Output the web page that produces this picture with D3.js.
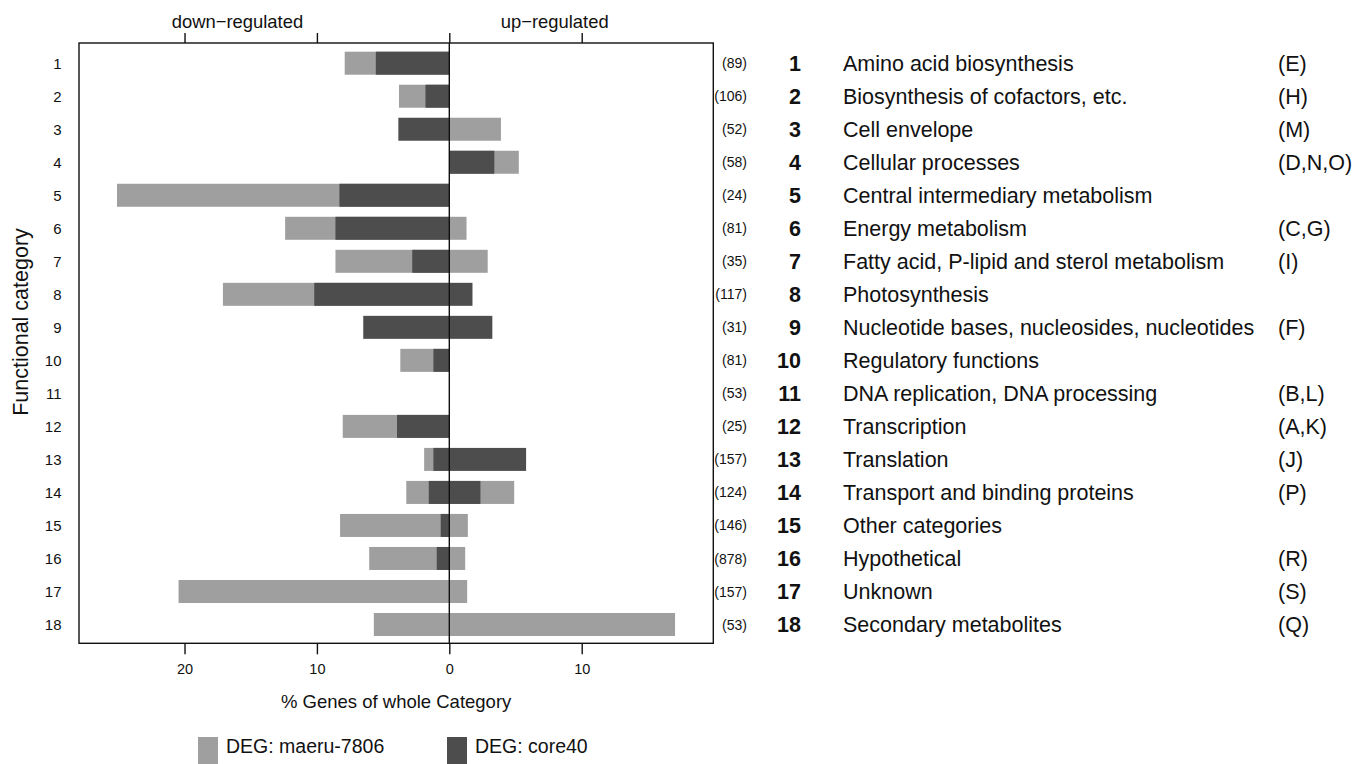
<!DOCTYPE html>
<html>
<head>
<meta charset="utf-8">
<script src="https://cdn.jsdelivr.net/npm/d3@7"></script>
<style>
  body { margin: 0; background: #fff; }
  svg text { font-family: "Liberation Sans", Arial, sans-serif; fill: #111; }
</style>
</head>
<body>
<svg id="chart" width="1355" height="764"></svg>
<script>
// functional categories (row numbers), gene counts and names
const categories = ["1","2","3","4","5","6","7","8","9","10","11","12","13","14","15","16","17","18"];
const geneCounts = [89, 106, 52, 58, 24, 81, 35, 117, 31, 81, 53, 25, 157, 124, 146, 878, 157, 53];
const categoryNames = [
    "Amino acid biosynthesis", "Biosynthesis of cofactors, etc.", "Cell envelope",
    "Cellular processes", "Central intermediary metabolism", "Energy metabolism",
    "Fatty acid, P-lipid and sterol metabolism", "Photosynthesis",
    "Nucleotide bases, nucleosides, nucleotides", "Regulatory functions",
    "DNA replication, DNA processing", "Transcription", "Translation",
    "Transport and binding proteins", "Other categories", "Hypothetical",
    "Unknown", "Secondary metabolites"
];
const cogLetters = ["(E)", "(H)", "(M)", "(D,N,O)", "", "(C,G)", "(I)", "", "(F)", "",
    "(B,L)", "(A,K)", "(J)", "(P)", "", "(R)", "(S)", "(Q)"];

// % genes of whole category, DEG: maeru-7806
const maeruDown = [7.9, 3.8, 0, 0, 25.1, 12.4, 8.6, 17.1, 0, 3.7, 0, 8.05, 1.9, 3.25, 8.25, 6.05, 20.45, 5.7];
const maeruUp   = [0, 0, 3.9, 5.25, 0, 1.3, 2.9, 0, 0, 0, 0, 0, 0, 4.9, 1.4, 1.2, 1.35, 17.05];
// % genes of whole category, DEG: core40
const coreDown  = [5.55, 1.8, 3.85, 0, 8.3, 8.6, 2.8, 10.2, 6.5, 1.2, 0, 3.95, 1.2, 1.55, 0.65, 0.95, 0, 0];
const coreUp    = [0, 0, 0, 3.4, 0, 0, 0, 1.75, 3.25, 0, 0, 0, 5.8, 2.35, 0, 0, 0, 0];

const xTicks = [-20, -10, 0, 10];
const legendLabels = ["DEG: maeru-7806", "DEG: core40"];

const lightGrey = "#9f9f9f", darkGrey = "#4d4d4d";

const plot = { left: 79, right: 713.3, top: 43, bottom: 643.3 };

const svg = d3.select("#chart");

const x = d3.scaleLinear()
    .domain([-27.97, 19.94])
    .range([plot.left, plot.right]);

const y = d3.scalePoint()
    .domain(categories)
    .range([63.2, 624.5]);

const barH = 23;

const rows = categories.map((c, i) => ({
    cat: c,
    count: geneCounts[i],
    name: categoryNames[i],
    cog: cogLetters[i],
    maeruDown: maeruDown[i], maeruUp: maeruUp[i],
    coreDown: coreDown[i], coreUp: coreUp[i]
}));

// light bars (maeru-7806) first, dark (core40) on top
svg.append("g").selectAll("rect")
    .data(rows.filter(d => d.maeruDown + d.maeruUp > 0))
    .enter().append("rect")
    .attr("x", d => x(-d.maeruDown))
    .attr("y", d => y(d.cat) - barH / 2)
    .attr("width", d => x(d.maeruUp) - x(-d.maeruDown))
    .attr("height", barH)
    .attr("fill", lightGrey);

svg.append("g").selectAll("rect")
    .data(rows.filter(d => d.coreDown + d.coreUp > 0))
    .enter().append("rect")
    .attr("x", d => x(-d.coreDown))
    .attr("y", d => y(d.cat) - barH / 2)
    .attr("width", d => x(d.coreUp) - x(-d.coreDown))
    .attr("height", barH)
    .attr("fill", darkGrey);

// box and zero line
svg.append("rect")
    .attr("x", plot.left).attr("y", plot.top)
    .attr("width", plot.right - plot.left).attr("height", plot.bottom - plot.top)
    .attr("fill", "none").attr("stroke", "#111").attr("stroke-width", 1.4);

svg.append("line")
    .attr("x1", x(0)).attr("x2", x(0))
    .attr("y1", plot.top).attr("y2", plot.bottom)
    .attr("stroke", "#111").attr("stroke-width", 1.4);

// bottom axis
const bottomAxis = svg.append("g")
    .attr("transform", `translate(0,${plot.bottom})`)
    .call(d3.axisBottom(x).tickValues(xTicks).tickSize(11).tickSizeOuter(0)
        .tickFormat(d => Math.abs(d)));
bottomAxis.select(".domain").remove();
bottomAxis.selectAll("line").attr("stroke", "#111").attr("stroke-width", 1.4);
bottomAxis.selectAll("text")
    .attr("font-size", "14.5px")
    .attr("dy", null)
    .attr("y", 31);

// top axis, ticks only
const topAxis = svg.append("g")
    .attr("transform", `translate(0,${plot.top})`)
    .call(d3.axisTop(x).tickValues(xTicks).tickSize(10).tickSizeOuter(0).tickFormat(""));
topAxis.select(".domain").remove();
topAxis.selectAll("line").attr("stroke", "#111").attr("stroke-width", 1.4);

svg.append("text").attr("x", x(-16)).attr("y", 28.3)
    .attr("text-anchor", "middle").attr("font-size", "18.4px").text("down\u2212regulated");
svg.append("text").attr("x", x(7.96)).attr("y", 28.3)
    .attr("text-anchor", "middle").attr("font-size", "18.4px").text("up\u2212regulated");

// row numbers on the left
svg.append("g").selectAll("text")
    .data(rows).enter().append("text")
    .attr("x", 61.5)
    .attr("y", d => y(d.cat))
    .attr("dy", "0.36em")
    .attr("text-anchor", "end")
    .attr("font-size", "15px")
    .text(d => d.cat);

// gene counts on the right of the box
svg.append("g").selectAll("text")
    .data(rows).enter().append("text")
    .attr("x", 747)
    .attr("y", d => y(d.cat))
    .attr("dy", "0.36em")
    .attr("text-anchor", "end")
    .attr("font-size", "14px")
    .text(d => `(${d.count})`);

// axis titles
svg.append("text")
    .attr("x", (plot.left + plot.right) / 2).attr("y", 707.5)
    .attr("text-anchor", "middle").attr("font-size", "18.5px")
    .text("% Genes of whole Category");

svg.append("text")
    .attr("transform", "translate(28,322) rotate(-90)")
    .attr("text-anchor", "middle").attr("font-size", "21.5px")
    .text("Functional category");

// category key
const key = svg.append("g").selectAll("g")
    .data(rows).enter().append("g")
    .attr("transform", d => `translate(0,${y(d.cat)})`);

key.append("text")
    .attr("x", 801).attr("dy", "0.36em")
    .attr("text-anchor", "end").attr("font-size", "21.5px").attr("font-weight", "bold")
    .text(d => d.cat);
key.append("text")
    .attr("x", 843).attr("dy", "0.36em")
    .attr("font-size", "21.5px")
    .text(d => d.name);
key.append("text")
    .attr("x", 1278).attr("dy", "0.36em")
    .attr("font-size", "21.5px")
    .text(d => d.cog);

// series legend
const legendX = [198, 447];
const legend = svg.append("g").selectAll("g")
    .data(legendLabels).enter().append("g")
    .attr("transform", (d, i) => `translate(${legendX[i]},737)`);
legend.append("rect")
    .attr("width", 20).attr("height", 32)
    .attr("fill", (d, i) => i === 0 ? lightGrey : darkGrey);
legend.append("text")
    .attr("x", 28).attr("y", 15.5)
    .attr("font-size", "19.5px")
    .text(d => d);
</script>
</body>
</html>
